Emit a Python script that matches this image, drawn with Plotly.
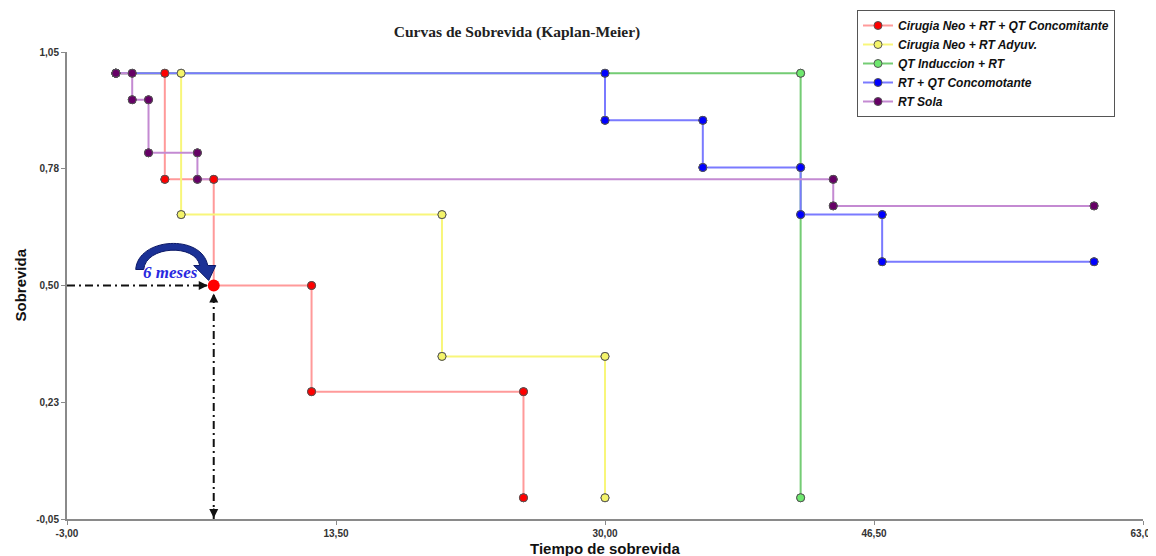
import plotly.graph_objects as go

# ---------------- data ----------------
GROUPS = [
    "Cirugia Neo + RT + QT Concomitante",
    "Cirugia Neo + RT Adyuv.",
    "QT Induccion + RT",
    "RT + QT Concomotante",
    "RT Sola",
]
# event times and survival after each event (start is t=0, S=1)
RED_T = [3, 6, 12, 25]
RED_S = [0.75, 0.50, 0.25, 0.0]
RED_END = None

YEL_T = [4, 20, 30]
YEL_S = [0.667, 0.333, 0.0]
YEL_END = None

GRN_T = [42]
GRN_S = [0.0]
GRN_END = None

BLU_T = [30, 36, 42, 47]
BLU_S = [0.889, 0.778, 0.667, 0.556]
BLU_END = 60

PUR_T = [1, 2, 5, 44]
PUR_S = [0.9375, 0.8125, 0.75, 0.6875]
PUR_END = 60

MEDIAN_T = 6
MEDIAN_S = 0.50
MEDIAN_LABEL = "6 meses"

X_TICKS = [-3.0, 13.5, 30.0, 46.5, 63.0]
X_TICKTEXT = ["-3,00", "13,50", "30,00", "46,50", "63,00"]
Y_TICKS = [1.05, 0.775, 0.50, 0.225, -0.05]
Y_TICKTEXT = ["1,05", "0,78", "0,50", "0,23", "-0,05"]

LINE_COLORS = ["#ff9a9a", "#f8f67a", "#74cc74", "#7a7aff", "#c48ad2"]
MARKER_COLORS = ["#ff0000", "#f4f46a", "#6ee86e", "#0000ff", "#660066"]


def km_vertices(times, surv, end):
    xs, ys = [0], [1.0]
    prev = 1.0
    for t, s in zip(times, surv):
        xs += [t, t]
        ys += [prev, s]
        prev = s
    if end is not None:
        xs.append(end)
        ys.append(prev)
    return xs, ys


series = [
    (RED_T, RED_S, RED_END),
    (YEL_T, YEL_S, YEL_END),
    (GRN_T, GRN_S, GRN_END),
    (BLU_T, BLU_S, BLU_END),
    (PUR_T, PUR_S, PUR_END),
]

fig = go.Figure()
verts = []
for name, (t, s, e), lc, mc in zip(GROUPS, series, LINE_COLORS, MARKER_COLORS):
    xs, ys = km_vertices(t, s, e)
    verts.append((xs, ys))
    fig.add_trace(go.Scatter(
        x=xs, y=ys, name=name, mode="lines+markers",
        line=dict(color=lc, width=2),
        marker=dict(color=mc, size=8, line=dict(color="#555555", width=1)),
    ))
# redraw markers above all lines
for (xs, ys), mc in zip(verts, MARKER_COLORS):
    fig.add_trace(go.Scatter(
        x=xs, y=ys, mode="markers", showlegend=False, hoverinfo="skip",
        marker=dict(color=mc, size=8, line=dict(color="#555555", width=1)),
    ))
# highlighted median point
fig.add_trace(go.Scatter(
    x=[MEDIAN_T], y=[MEDIAN_S], mode="markers", showlegend=False,
    marker=dict(color="#ff0000", size=12, line=dict(color="#ff2020", width=0)),
))

# dash-dot guide lines
dashpat = "8px,4px,2px,4px"
fig.add_shape(type="line", xref="x", yref="y", x0=X_TICKS[0], x1=MEDIAN_T,
              y0=MEDIAN_S, y1=MEDIAN_S, layer="below",
              line=dict(color="#111111", width=2, dash=dashpat))
fig.add_shape(type="line", xref="x", yref="y", x0=MEDIAN_T, x1=MEDIAN_T,
              y0=Y_TICKS[-1], y1=MEDIAN_S, layer="below",
              line=dict(color="#111111", width=2, dash=dashpat))

# curved arrow (pixel offsets relative to the median point)
arc_path = ("M -78,16 C -76,48 -12,52 -6,20 L 2,20 L -5,5 L -20,20 L -14,20 "
            "C -18,42 -68,40 -70,16 Z")
fig.add_shape(type="path", xref="x", yref="y", xsizemode="pixel", ysizemode="pixel",
              xanchor=MEDIAN_T, yanchor=MEDIAN_S, path=arc_path,
              fillcolor="#1b3196", line=dict(color="#0b1866", width=1), layer="above")

annotations = [
    dict(x=MEDIAN_T, y=MEDIAN_S, xref="x", yref="y", text=MEDIAN_LABEL,
         showarrow=False, xshift=-43, yshift=13,
         font=dict(family="Liberation Serif, Times New Roman, serif", size=17,
                   color="#2828e0", weight="bold", style="italic")),
    # arrowheads
    dict(x=MEDIAN_T, y=MEDIAN_S, xref="x", yref="y", ax=-14, ay=0, text="",
         showarrow=True, arrowhead=2, arrowsize=1.2, arrowwidth=1.5,
         arrowcolor="#111111", standoff=6),
    dict(x=MEDIAN_T, y=MEDIAN_S, xref="x", yref="y", ax=0, ay=16, text="",
         showarrow=True, arrowhead=2, arrowsize=1.2, arrowwidth=1.5,
         arrowcolor="#111111", standoff=8),
    dict(x=MEDIAN_T, y=Y_TICKS[-1], xref="x", yref="y", ax=0, ay=-12, text="",
         showarrow=True, arrowhead=2, arrowsize=1.2, arrowwidth=1.5,
         arrowcolor="#111111", standoff=1),
    # axis titles
    dict(x=0, y=0.5, xref="paper", yref="paper", xshift=-47, text="Sobrevida",
         textangle=-90, showarrow=False, xanchor="center", yanchor="middle",
         font=dict(family="Liberation Sans, Arial, sans-serif", size=15,
                   color="#111111", weight="bold")),
    dict(x=0.5, y=0, xref="paper", yref="paper", yshift=-29, text="Tiempo de sobrevida",
         showarrow=False, xanchor="center", yanchor="middle",
         font=dict(family="Liberation Sans, Arial, sans-serif", size=15,
                   color="#111111", weight="bold")),
]

tickfont = dict(family="Liberation Sans Narrow, Arial Narrow, Liberation Sans, sans-serif",
                size=10, color="#333333", weight="bold")

# page body adds an 8px offset; figure is sized so the plot lands where the reference has it
W, H = 1148, 548
fig.update_layout(
    width=W, height=H,
    margin=dict(l=59, r=13, t=44, b=37, autoexpand=False),
    paper_bgcolor="white", plot_bgcolor="white",
    title=dict(text="Curvas de Sobrevida (Kaplan-Meier)", x=509 / W, xref="container",
               xanchor="center", y=1 - 24 / H, yanchor="middle",
               font=dict(family="Liberation Serif, Times New Roman, serif", size=15.5,
                         color="#222222", weight="bold")),
    xaxis=dict(range=[X_TICKS[0], X_TICKS[-1]], tickvals=X_TICKS, ticktext=X_TICKTEXT,
               showgrid=False, zeroline=False, showline=True, linecolor="#8a8a8a",
               linewidth=2, ticks="outside", ticklen=4, tickcolor="#8a8a8a",
               tickfont=tickfont, automargin=False),
    yaxis=dict(range=[Y_TICKS[-1], Y_TICKS[0]], tickvals=Y_TICKS, ticktext=Y_TICKTEXT,
               showgrid=False, zeroline=False, showline=True, linecolor="#8a8a8a",
               linewidth=2, ticks="outside", ticklen=4, tickcolor="#8a8a8a",
               tickfont=tickfont, automargin=False),
    legend=dict(x=(849 - 59) / 1076, y=(511 - 2) / 467, xanchor="left", yanchor="top",
                bgcolor="white", bordercolor="#555555", borderwidth=1,
                font=dict(family="Liberation Sans, Arial, sans-serif", size=12,
                          color="#111111", weight="bold", style="italic"),
                itemwidth=30, tracegroupgap=0),
    annotations=annotations,
    showlegend=True,
)

fig.write_html("out.html")
